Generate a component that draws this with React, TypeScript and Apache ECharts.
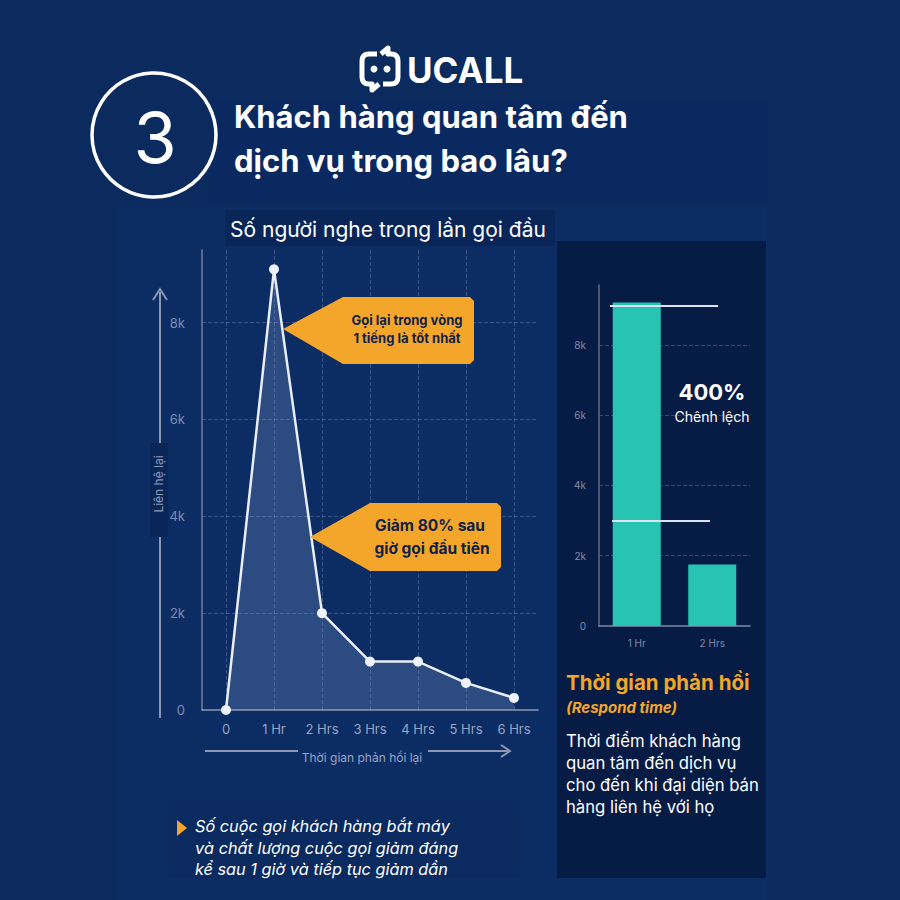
import React, { useEffect, useRef } from 'react';
import * as echarts from 'echarts';

// ---- data ----
const timeCategories = ['0', '1 Hr', '2 Hrs', '3 Hrs', '4 Hrs', '5 Hrs', '6 Hrs'];
const listenerCounts = [0, 9100, 2000, 1000, 1000, 560, 250];
const compareCategories = ['1 Hr', '2 Hrs'];
const compareValues = [9200, 1750];
const diffLineValues = [9100, 3000];
const yTickInterval = 2000;

const titleLines = ['Khách hàng quan tâm đến', 'dịch vụ trong bao lâu?'];
const subtitle = 'Số người nghe trong lần gọi đầu';
const yAxisTitle = 'Liên hệ lại';
const callout1 = ['Gọi lại trong vòng', '1 tiếng là tốt nhất'];
const callout2 = ['Giảm 80% sau', 'giờ gọi đầu tiên'];
const noteLines = ['Số cuộc gọi khách hàng bắt máy', 'và chất lượng cuộc gọi giảm đáng', 'kể sau 1 giờ và tiếp tục giảm dần'];
const sideLines = ['Thời điểm khách hàng', 'quan tâm đến dịch vụ', 'cho đến khi đại diện bán', 'hàng liên hệ với họ'];

const FONT = "Inter, 'Noto Sans', sans-serif";
const ORANGE = '#f4a62a';
const GRID_LINE = 'rgba(150,170,210,0.32)';

const kFmt = (v: number) => (v === 0 ? '0' : v / 1000 + 'k');

echarts.graphic.registerShape(
  'ucallLeft',
  echarts.graphic.extendPath('M19 6 H11 Q4 6 4 13 V29 Q4 36 11 36 H14 V42 L21 36', {})
);
echarts.graphic.registerShape(
  'ucallRight',
  echarts.graphic.extendPath('M25 36 H33 Q40 36 40 29 V13 Q40 6 33 6 H30 V0 L23 6', {})
);

export default function App() {
  const ref = useRef<HTMLDivElement>(null);
  useEffect(() => {
    document.body.style.margin = '0';
    const chart = echarts.init(ref.current!, null, { renderer: 'svg' });
    const txt = (text: string, x: number, y: number, size: number, fill: string, extra: any = {}) => ({
      type: 'text',
      z: 10,
      style: {
        text,
        x,
        y,
        fill,
        fontSize: size,
        fontFamily: FONT,
        fontWeight: extra.weight || 'normal',
        fontStyle: extra.style || 'normal',
        textAlign: extra.align || 'left',
        textVerticalAlign: 'middle',
      },
    });
    const graphics: any[] = [
      // panels
      { type: 'rect', z: -10, shape: { x: 118, y: 205, width: 649, height: 695 }, style: { fill: '#0c2c64' } },
      { type: 'rect', z: -10, shape: { x: 212, y: 100, width: 555, height: 102 }, style: { fill: '#0b2961' } },
      { type: 'rect', z: -9, shape: { x: 225, y: 210, width: 330, height: 36 }, style: { fill: '#0a2658' } },
      { type: 'rect', z: -9, shape: { x: 557, y: 241, width: 209, height: 637 }, style: { fill: '#071c45' } },
      { type: 'rect', z: -9, shape: { x: 168, y: 803, width: 352, height: 75 }, style: { fill: '#0b2a60' } },
      // logo
      { type: 'ucallLeft', x: 358, y: 48, style: { stroke: '#ffffff', lineWidth: 5, fill: null, lineJoin: 'round' } },
      { type: 'ucallRight', x: 358, y: 48, style: { stroke: '#ffffff', lineWidth: 5, fill: null, lineJoin: 'round' } },
      { type: 'circle', shape: { cx: 374, cy: 69, r: 3.5 }, style: { fill: '#ffffff' } },
      { type: 'circle', shape: { cx: 387, cy: 69, r: 3.5 }, style: { fill: '#ffffff' } },
      txt('UCALL', 407, 70, 35, '#ffffff', { weight: 'bold' }),
      // number circle
      { type: 'circle', shape: { cx: 154, cy: 135, r: 62 }, style: { fill: null, stroke: '#ffffff', lineWidth: 3.5 } },
      txt('3', 155, 137, 70, '#ffffff', { align: 'center' }),
      // title
      txt(titleLines[0], 234, 116, 31, '#ffffff', { weight: 'bold' }),
      txt(titleLines[1], 234, 160, 31, '#ffffff', { weight: 'bold' }),
      txt(subtitle, 230, 229, 21, '#ffffff'),
      // y axis arrow + title
      { type: 'line', shape: { x1: 160, y1: 443, x2: 160, y2: 292 }, style: { stroke: '#8d98b4', lineWidth: 2 } },
      { type: 'polyline', shape: { points: [[153, 300], [160, 289], [167, 300]] }, style: { stroke: '#8d98b4', lineWidth: 2, fill: null } },
      { type: 'line', shape: { x1: 160, y1: 537, x2: 160, y2: 718 }, style: { stroke: '#8d98b4', lineWidth: 2 } },
      { type: 'rect', z: 1, shape: { x: 150, y: 443, width: 18, height: 94 }, style: { fill: '#0a2659' } },
      {
        type: 'text', z: 10, x: 158, y: 484, rotation: Math.PI / 2,
        style: { text: yAxisTitle, fill: '#8d98b4', fontSize: 12, fontFamily: FONT, textAlign: 'center', textVerticalAlign: 'middle' },
      },
      // x axis arrow
      { type: 'line', shape: { x1: 205, y1: 751, x2: 298, y2: 751 }, style: { stroke: '#8d98b4', lineWidth: 2 } },
      { type: 'line', shape: { x1: 428, y1: 751, x2: 509, y2: 751 }, style: { stroke: '#8d98b4', lineWidth: 2 } },
      { type: 'polyline', shape: { points: [[501, 745], [510, 751], [501, 757]] }, style: { stroke: '#8d98b4', lineWidth: 2, fill: null } },
      // callout 1
      {
        type: 'polygon', z: 8,
        shape: { points: [[283, 329], [343, 297], [470, 297], [474, 301], [474, 360], [470, 364], [343, 364]] },
        style: { fill: ORANGE },
      },
      txt(callout1[0], 407, 320, 13, '#0f2148', { weight: 'bold', align: 'center' }),
      txt(callout1[1], 407, 338, 13, '#0f2148', { weight: 'bold', align: 'center' }),
      // callout 2
      {
        type: 'polygon', z: 8,
        shape: { points: [[310, 537], [370, 503], [497, 503], [501, 507], [501, 567], [497, 571], [370, 571]] },
        style: { fill: ORANGE },
      },
      txt(callout2[0], 430, 525, 15.5, '#0f2148', { weight: 'bold', align: 'center' }),
      txt(callout2[1], 432, 548, 15.5, '#0f2148', { weight: 'bold', align: 'center' }),
      // right panel texts
      txt('400%', 712, 392, 22, '#ffffff', { weight: 'bold', align: 'center' }),
      txt('Chênh lệch', 712, 416, 14, '#ffffff', { align: 'center' }),
      txt('Thời gian phản hồi', 566, 682, 20.5, ORANGE, { weight: 'bold' }),
      txt('(Respond time)', 566, 707, 15, ORANGE, { weight: 'bold', style: 'italic' }),
      ...sideLines.map((l, i) => txt(l, 566, 741 + i * 22, 16.7, '#ffffff')),
      // bottom note
      { type: 'polygon', shape: { points: [[177, 820], [187, 828], [177, 836]] }, style: { fill: ORANGE } },
      ...noteLines.map((l, i) => txt(l, 195, 826 + i * 21.5, 16.3, '#ffffff', { style: 'italic' })),
    ];

    chart.setOption({
      animation: false,
      backgroundColor: '#0b2a5e',
      textStyle: { fontFamily: FONT },
      grid: [
        { left: 202, top: 250, width: 336, height: 460 },
        { left: 599, top: 285, width: 151, height: 341 },
      ],
      xAxis: [
        {
          gridIndex: 0,
          type: 'category',
          data: timeCategories,
          boundaryGap: true,
          axisLine: { lineStyle: { color: '#8d98b4', width: 1.5 } },
          axisTick: { show: false },
          axisLabel: { color: '#9aa5c2', fontSize: 13, margin: 12 },
          splitLine: { show: true, alignWithLabel: true, lineStyle: { color: GRID_LINE, type: 'dashed' } },
          name: 'Thời gian phản hồi lại',
          nameLocation: 'middle',
          nameGap: 41,
          nameTextStyle: { color: '#9aa5c2', fontSize: 12, padding: [0, 16, 0, 0] },
        },
        {
          gridIndex: 1,
          type: 'category',
          data: compareCategories,
          axisLine: { lineStyle: { color: '#7f8aa8', width: 1.5 } },
          axisTick: { show: false },
          axisLabel: { color: '#7f8aa8', fontSize: 10, margin: 12 },
        },
      ],
      yAxis: [
        {
          gridIndex: 0,
          type: 'value',
          min: 0,
          max: 9500,
          interval: yTickInterval,
          axisLine: { show: true, lineStyle: { color: '#6f7c9c', width: 1.5 } },
          axisTick: { show: false },
          axisLabel: { color: '#7f8cae', fontSize: 13, margin: 17, formatter: kFmt, showMaxLabel: false },
          splitLine: { show: true, showMinLine: false, showMaxLine: false, lineStyle: { color: GRID_LINE, type: 'dashed' } },
        },
        {
          gridIndex: 1,
          type: 'value',
          min: 0,
          max: 9700,
          interval: yTickInterval,
          axisLine: { show: true, lineStyle: { color: '#5f6b8a', width: 1.5 } },
          axisTick: { show: false },
          axisLabel: { color: '#7f8aa8', fontSize: 10, margin: 13, formatter: kFmt, showMaxLabel: false },
          splitLine: { show: true, showMinLine: false, showMaxLine: false, lineStyle: { color: 'rgba(140,155,190,0.35)', type: 'dashed' } },
        },
      ],
      series: [
        {
          type: 'line',
          xAxisIndex: 0,
          yAxisIndex: 0,
          data: listenerCounts,
          symbol: 'circle',
          symbolSize: 10,
          lineStyle: { color: '#e9eef8', width: 2.5 },
          itemStyle: { color: '#eef2fa' },
          areaStyle: { color: 'rgba(138,166,214,0.36)' },
          z: 3,
        },
        {
          type: 'bar',
          xAxisIndex: 1,
          yAxisIndex: 1,
          data: compareValues,
          barWidth: 48,
          itemStyle: { color: '#27c4b3' },
          markLine: {
            silent: true,
            symbol: 'none',
            label: { show: false },
            lineStyle: { color: '#dde4f0', width: 2, type: 'solid' },
            data: [
              [{ x: 610, yAxis: diffLineValues[0] }, { x: 718, yAxis: diffLineValues[0] }],
              [{ x: 612, yAxis: diffLineValues[1] }, { x: 710, yAxis: diffLineValues[1] }],
            ],
          },
        },
      ],
      graphic: graphics,
    });
    return () => chart.dispose();
  }, []);
  return <div ref={ref} style={{ position: 'fixed', left: 0, top: 0, width: 900, height: 900 }} />;
}
